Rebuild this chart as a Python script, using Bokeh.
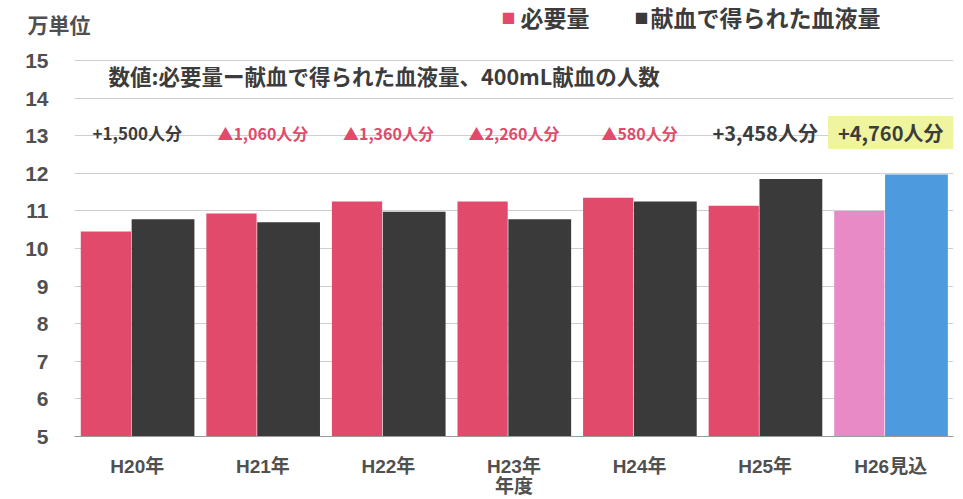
from bokeh.plotting import figure
from bokeh.models import FactorRange, Range1d, Label, ColumnDataSource, FixedTicker
from bokeh.transform import dodge
from bokeh.embed import file_html
from bokeh.resources import INLINE

# ---- data ----
categories = ["H20年", "H21年", "H22年", "H23年", "H24年", "H25年", "H26見込"]
required = [10.45, 10.93, 11.25, 11.25, 11.35, 11.14, 11.00]
donated = [10.78, 10.70, 10.98, 10.78, 11.25, 11.85, 11.97]
diff_labels = ["+1,500人分", "▲1,060人分", "▲1,360人分", "▲2,260人分", "▲580人分", "+3,458人分", "+4,760人分"]
series_names = ["必要量", "献血で得られた血液量"]
y_ticks = [5, 6, 7, 8, 9, 10, 11, 12, 13, 14, 15]
y_unit = "万単位"
y_unit_at = 15.93
x_title = "年度"
subtitle = "数値:必要量ー献血で得られた血液量、400mL献血の人数"

# ---- styles ----
RED = "#e14a6a"
DARK = "#3a3a3a"
PINK = "#e88ac6"
BLUE = "#4d9ade"
TEXT = "#3c3c3c"
JP = "Noto Sans CJK JP"
MIX = "'Liberation Sans', 'Noto Sans CJK JP'"
PAD = "\u3000\u3000"   # keeps the numbers right-aligned left of the unit text

req_colors = [RED] * (len(categories) - 1) + [PINK]
don_colors = [DARK] * (len(categories) - 1) + [BLUE]

src = ColumnDataSource(dict(cat=categories, req=required, don=donated,
                            rc=req_colors, dc=don_colors))

p = figure(width=963, height=499, x_range=FactorRange(*categories), y_range=Range1d(5, 16.596),
           min_border_left=74, min_border_right=10, min_border_top=0, min_border_bottom=62,
           output_backend="svg", toolbar_location=None)
p.outline_line_color = None
p.background_fill_color = "white"
p.border_fill_color = "white"

p.vbar(x=dodge("cat", -0.25, range=p.x_range), top="req", bottom=0, width=0.40,
       fill_color="rc", line_color=None, source=src)
p.vbar(x=dodge("cat", 0.205, range=p.x_range), top="don", bottom=0, width=0.50,
       fill_color="dc", line_color=None, source=src)

# y axis: numbers plus the unit text at the top
p.yaxis.ticker = FixedTicker(ticks=y_ticks + [y_unit_at])
p.yaxis.major_label_overrides = {**{t: f"{t}{PAD}" for t in y_ticks}, y_unit_at: y_unit}
p.yaxis.major_tick_out = 0
p.yaxis.major_tick_in = 0
p.yaxis.minor_tick_out = 0
p.yaxis.minor_tick_in = 0
p.yaxis.axis_line_color = None
p.yaxis.major_label_standoff = -16
p.yaxis.major_label_text_font = "'Liberation Sans Narrow', 'Liberation Sans', 'Noto Sans CJK JP'"
p.yaxis.major_label_text_font_size = "21px"
p.yaxis.major_label_text_font_style = "bold"
p.yaxis.major_label_text_color = "#505050"

p.xaxis.major_tick_out = 0
p.xaxis.major_tick_in = 0
p.xaxis.axis_line_color = "#9a9a9a"
p.xaxis.major_label_standoff = 19
p.xaxis.major_label_text_font = MIX
p.xaxis.major_label_text_font_size = "19px"
p.xaxis.major_label_text_font_style = "bold"
p.xaxis.major_label_text_color = "#505050"
p.xaxis.axis_label = x_title
p.xaxis.axis_label_text_font = MIX
p.xaxis.axis_label_text_font_size = "19px"
p.xaxis.axis_label_text_font_style = "bold"
p.xaxis.axis_label_text_color = "#505050"
p.xaxis.axis_label_standoff = -4

p.xgrid.grid_line_color = None
p.ygrid.ticker = FixedTicker(ticks=y_ticks)
p.ygrid.grid_line_color = "#cfcfcf"
p.ygrid.grid_line_width = 1

# subtitle
p.add_layout(Label(x=0.271, y=14.6, text=subtitle, text_font=JP, text_font_size="21.5px",
                   text_font_style="bold", text_color=TEXT, text_baseline="middle"))
# legend
p.add_layout(Label(x=3.40, y=16.144, text="■", text_font=JP, text_font_size="14px",
                   text_color=RED, text_baseline="middle"))
p.add_layout(Label(x=3.552, y=16.144, text=series_names[0], text_font=JP, text_font_size="23px",
                   text_font_style="bold", text_color=TEXT, text_baseline="middle"))
p.add_layout(Label(x=4.46, y=16.144, text="■", text_font=JP, text_font_size="14px",
                   text_color=DARK, text_baseline="middle"))
p.add_layout(Label(x=4.587, y=16.144, text=series_names[1], text_font=JP, text_font_size="23px",
                   text_font_style="bold", text_color=TEXT, text_baseline="middle"))

# difference annotations
for i, t in enumerate(diff_labels):
    neg = t.startswith("▲")
    size = "17px" if i == 0 else ("16px" if neg else "20px")
    kw = {}
    if i == len(diff_labels) - 1:
        kw = dict(background_fill_color="#eef59e", padding=(10, 2))
    p.add_layout(Label(x=i + 0.5, y=13.085, text=t, text_font=JP, text_font_size=size,
                       text_font_style="bold", text_color=RED if neg else TEXT,
                       text_align="center", text_baseline="middle", **kw))

open("out.html", "w").write(file_html(p, INLINE))
